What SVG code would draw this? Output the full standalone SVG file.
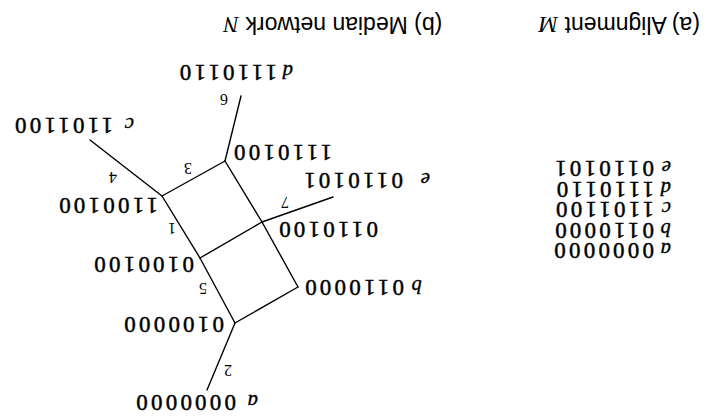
<svg xmlns="http://www.w3.org/2000/svg" width="707" height="417" viewBox="0 0 707 417">
<style>
.bg{fill:#fff}
.e{stroke:#000;stroke-width:1.4;fill:none;stroke-linecap:round}
.seq{font-family:"Liberation Serif",serif;font-size:23px;letter-spacing:3.2px;fill:#000;stroke:#000;stroke-width:0.45}
.tx{font-family:"Liberation Serif",serif;font-style:italic;font-size:21px;fill:#000;stroke:#000;stroke-width:0.35}
.w{font-family:"Liberation Serif",serif;font-size:16px;fill:#000;text-anchor:middle;dominant-baseline:central}
.title{font-family:"Liberation Sans",sans-serif;font-size:23px;fill:#000}
.it{font-family:"Liberation Serif",serif;font-style:italic}
</style>
<rect class="bg" width="707" height="417"/>
<g transform="rotate(180 353.5 208.5)">
  <g id="connectors">
    <line class="e" x1="500" y1="27" x2="472" y2="94"/>
    <line class="e" x1="472" y1="94" x2="409" y2="130"/>
    <line class="e" x1="472" y1="94" x2="507" y2="159"/>
    <line class="e" x1="409" y1="130" x2="445" y2="195"/>
    <line class="e" x1="507" y1="159" x2="445" y2="195"/>
    <line class="e" x1="507" y1="159" x2="545" y2="221"/>
    <line class="e" x1="445" y1="195" x2="482" y2="256"/>
    <line class="e" x1="545" y1="221" x2="482" y2="256"/>
    <line class="e" x1="445" y1="195" x2="374" y2="220"/>
    <line class="e" x1="545" y1="221" x2="617" y2="277"/>
    <line class="e" x1="482" y1="256" x2="466" y2="321"/>
    <text class="w" x="479" y="47">2</text>
    <text class="w" x="504" y="129">5</text>
    <text class="w" x="535" y="189">1</text>
    <text class="w" x="422" y="215">7</text>
    <text class="w" x="519" y="249">3</text>
    <text class="w" x="594" y="240">4</text>
    <text class="w" x="483" y="318">6</text>
  </g>
  <g id="node-a"><text class="tx" x="449" y="22">a</text><text class="seq" x="471" y="22">0000000</text></g>
  <g id="node-v1"><text class="seq" x="483" y="100">0100000</text></g>
  <g id="node-b"><text class="tx" x="285" y="137">b</text><text class="seq" x="303" y="137">0110000</text></g>
  <g id="node-vm"><text class="seq" x="513" y="160">0100100</text></g>
  <g id="node-vctr"><text class="seq" x="329" y="195">0110100</text></g>
  <g id="node-e"><text class="tx" x="277" y="244">e</text><text class="seq" x="304" y="244">0110101</text></g>
  <g id="node-vc"><text class="seq" x="549" y="219">1100100</text></g>
  <g id="node-vd"><text class="seq" x="375" y="272">1110100</text></g>
  <g id="node-c"><text class="tx" x="573" y="299">c</text><text class="seq" x="594" y="299">1101100</text></g>
  <g id="node-d"><text class="tx" x="414" y="352">d</text><text class="seq" x="430" y="352">1110110</text></g>
  <g id="alignment">
    <text class="tx" x="36" y="174">a</text><text class="seq" x="53" y="174">0000000</text>
    <text class="tx" x="36" y="194.5">b</text><text class="seq" x="53" y="194.5">0110000</text>
    <text class="tx" x="36" y="215">c</text><text class="seq" x="53" y="215">1101100</text>
    <text class="tx" x="36" y="235.5">d</text><text class="seq" x="53" y="235.5">1110110</text>
    <text class="tx" x="36" y="256">e</text><text class="seq" x="53" y="256">0110101</text>
  </g>
  <text class="title" x="7" y="400">(a) Alignment <tspan class="it">M</tspan></text>
  <text class="title" x="374" y="400" text-anchor="middle">(b) Median network <tspan class="it">N</tspan></text>
</g>
</svg>
